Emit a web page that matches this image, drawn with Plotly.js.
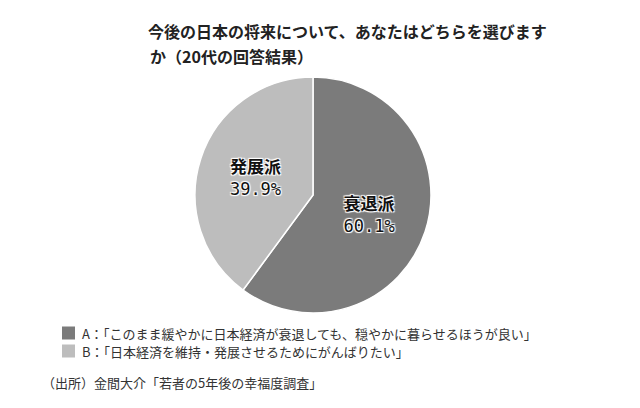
<!DOCTYPE html>
<html>
<head>
<meta charset="utf-8" />
<script src="https://cdn.plot.ly/plotly-3.0.1.min.js"></script>
<style>
  html, body { margin: 0; padding: 0; background: #fff; }
  #chart { width: 640px; height: 408px; }
</style>
</head>
<body>
<div id="chart"></div>
<script>
  // 回答の内訳
  const groupNames = ["衰退派", "発展派"];
  const shares = [60.1, 39.9];
  const legendTexts = [
    "A：「このまま緩やかに日本経済が衰退しても、穏やかに暮らせるほうが良い」",
    "B：「日本経済を維持・発展させるためにがんばりたい」",
  ];
  const sliceColors = ["#7b7b7b", "#bdbdbd"];

  const titleLine1 = "今後の日本の将来について、あなたはどちらを選びます";
  const titleLine2 = "か（20代の回答結果）";
  const sourceText = "（出所）金間大介「若者の5年後の幸福度調査」";

  const jp = "Noto Sans CJK JP";
  const mono = "DejaVu Sans Mono";
  const W = 640, H = 408;

  const pie = {
    type: "pie",
    labels: groupNames,
    values: shares,
    text: groupNames.map(
      (g, i) =>
        `<b>${g}</b><br><span style="font-family:'${mono}'">${shares[i].toFixed(1)}%</span>`
    ),
    textinfo: "text",
    textposition: "inside",
    insidetextorientation: "horizontal",
    hoverinfo: "none",
    sort: false,
    direction: "clockwise",
    rotation: 0,
    showlegend: false,
    marker: {
      colors: sliceColors,
      line: { color: "#ffffff", width: 1.5 },
    },
    textfont: {
      family: jp,
      size: 17,
      color: "#111",
      shadow:
        "1px 1px 1px #fff, -1px -1px 1px #fff, 1px -1px 1px #fff, -1px 1px 1px #fff",
    },
    domain: { x: [0.3047, 0.6734], y: [0.2328, 0.8113] },
  };

  // 凡例（四角＋説明文）
  const legendRowY = [333, 351];
  const shapes = legendTexts.map((_, i) => ({
    type: "rect",
    xref: "paper",
    yref: "paper",
    x0: 62 / W,
    x1: 75 / W,
    y0: 1 - (legendRowY[i] + 6.5) / H,
    y1: 1 - (legendRowY[i] - 6.5) / H,
    fillcolor: sliceColors[i],
    line: { width: 0 },
  }));
  const legendNotes = legendTexts.map((t, i) => ({
    text: t,
    xref: "paper",
    yref: "paper",
    x: 80 / W,
    y: 1 - legendRowY[i] / H,
    xanchor: "left",
    yanchor: "middle",
    showarrow: false,
    font: { family: jp, size: 13, color: "#333" },
  }));

  const layout = {
    width: W,
    height: H,
    margin: { l: 0, r: 0, t: 0, b: 0 },
    paper_bgcolor: "#ffffff",
    font: { family: jp, color: "#222" },
    showlegend: false,
    title: {
      text: "<b>" + titleLine1 + "</b>",
      x: 148 / W,
      xanchor: "left",
      xref: "container",
      y: 1 - 32 / H,
      yanchor: "middle",
      yref: "container",
      font: { family: jp, size: 16, color: "#222" },
    },
    shapes: shapes,
    annotations: [
      {
        text: "<b>" + titleLine2 + "</b>",
        xref: "paper",
        yref: "paper",
        x: 148 / W,
        y: 1 - 56 / H,
        xanchor: "left",
        yanchor: "middle",
        showarrow: false,
        font: { family: jp, size: 16, color: "#222" },
      },
      ...legendNotes,
      {
        text: sourceText,
        xref: "paper",
        yref: "paper",
        x: 40 / W,
        y: 1 - 382 / H,
        xanchor: "left",
        yanchor: "middle",
        showarrow: false,
        font: { family: jp, size: 13, color: "#333" },
      },
    ],
  };

  Plotly.newPlot("chart", [pie], layout, { displayModeBar: false, staticPlot: true });
</script>
</body>
</html>
